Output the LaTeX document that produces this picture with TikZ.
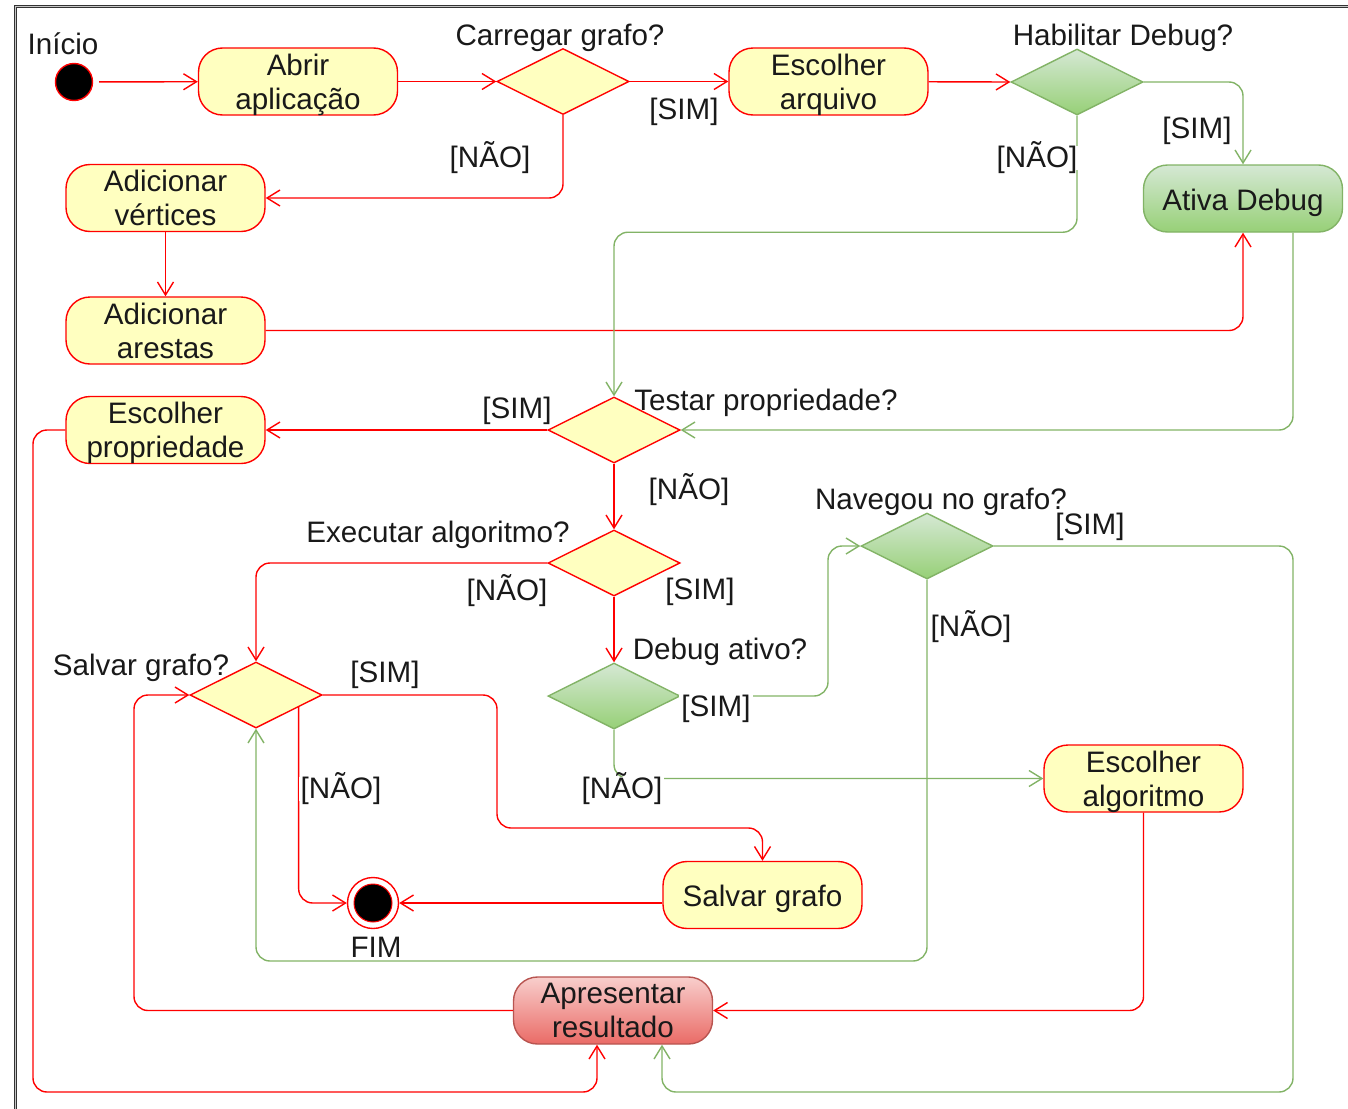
\documentclass[tikz,border=0pt]{standalone}
\usepackage{fontspec}
\setmainfont{Liberation Sans}
\usetikzlibrary{arrows.meta,shapes.geometric,calc}
\definecolor{actfill}{HTML}{FFFFC0}
\definecolor{actline}{HTML}{FF0000}
\definecolor{gline}{HTML}{82B366}
\definecolor{gtop}{HTML}{D5E8D4}
\definecolor{gbot}{HTML}{97D077}
\definecolor{rtop}{HTML}{F8CECC}
\definecolor{rbot}{HTML}{EA6B66}
\definecolor{rline}{HTML}{B85450}
\begin{document}
\begin{tikzpicture}[x=0.5pt,y=-0.5pt,
  every node/.style={font=\fontsize{14.8}{17}\selectfont, text=black!90},
  act/.style={draw=actline, fill=actfill, line width=0.7pt, rounded corners=12pt,
    minimum width=99.5pt, minimum height=33.5pt, align=center, inner sep=1pt,
    text depth=0pt},
  oneline/.style={text height=11.5pt, text depth=0pt},
  actgreen/.style={act, draw=gline, top color=gtop, bottom color=gbot},
  actred/.style={act, draw=rline, top color=rtop, bottom color=rbot},
  dec/.style={diamond, draw=actline, fill=actfill, line width=0.7pt,
    minimum width=66pt, minimum height=33pt, inner sep=0pt},
  gdec/.style={dec, draw=gline, top color=gtop, bottom color=gbot},
  qlbl/.style={inner sep=0pt, text height=0.95em, text depth=0.03em},
  lbl/.style={fill=white, inner sep=1pt, text height=0.95em, text depth=0.03em},
  tip/.style={-{Straight Barb[length=6.5pt,width=8pt]}},
  redflow/.style={draw=actline, line width=0.7pt, rounded corners=7pt, tip},
  greenflow/.style={draw=gline, line width=0.7pt, rounded corners=7pt, tip},
]
\useasboundingbox (0,0) rectangle (1348,1108);
% frame
\draw[line width=0.5pt, draw=black!80, double=gray!45, double distance=0.6pt]
  (1350,6.5) -- (15.5,6.5) -- (15.5,1110);

% initial and final states
\node[circle, draw=actline, fill=black, line width=0.7pt, minimum size=18.5pt, inner sep=0pt] (start) at (74,82) {};
\node[qlbl] (lstart) at (63,45) {Início};
\node[circle, draw=actline, fill=white, line width=0.7pt, minimum size=25.5pt, inner sep=0pt] (fim) at (373,903) {};
\node[circle, draw=actline, fill=black, line width=0.5pt, minimum size=19pt, inner sep=0pt] (fimdot) at (fim.center) {};
\node[qlbl] (lfim) at (376,948) {FIM};

% actions
\node[act] (abrir) at (298,81.5) {Abrir\\aplicação};
\node[act] (escarq) at (828.5,81.5) {Escolher\\arquivo};
\node[actgreen, oneline] (ativa) at (1243,198.5) {Ativa Debug};
\node[act] (advert) at (165.5,198) {Adicionar\\vértices};
\node[act] (arestas) at (165.5,330.5) {Adicionar\\arestas};
\node[act] (escprop) at (165.5,430) {Escolher\\propriedade};
\node[act, oneline] (salvargr) at (762.5,895) {Salvar grafo};
\node[act] (escalg) at (1143.5,778.5) {Escolher\\algoritmo};
\node[actred] (apres) at (613,1010.5) {Apresentar\\resultado};

% decisions
\node[dec] (carregar) at (563,81.5) {};
\node[gdec] (habilitar) at (1077,82) {};
\node[dec] (testar) at (614,430) {};
\node[dec] (exec) at (614,563) {};
\node[gdec] (debug) at (614,696) {};
\node[gdec] (naveg) at (927,546) {};
\node[dec] (salvarq) at (256,695) {};

% decision captions
\node[qlbl] (qcarregar) at (560,36) {Carregar grafo?};
\node[qlbl] (qhab) at (1123,36) {Habilitar Debug?};
\node[qlbl] (qtestar) at (766,401) {Testar propriedade?};
\node[qlbl] (qexec) at (438,533) {Executar algoritmo?};
\node[qlbl] (qdebug) at (720,650) {Debug ativo?};
\node[qlbl] (qnaveg) at (941,500) {Navegou no grafo?};
\node[qlbl] (qsalvar) at (141,666) {Salvar grafo?};

% bend points of the long connectors
\coordinate (gloop) at (1293,1092);
\coordinate (rloop) at (33,1092);
\coordinate (nbend) at (600,961);
\coordinate (sbend) at (497,828);
\coordinate (lbend) at (134,695);
\coordinate (dbend) at (828,546);

% red flows
\draw[redflow, shorten <=3pt] (start) -- (abrir);
\draw[redflow] (abrir) -- (carregar.west);
\draw[redflow] (carregar.east) -- (escarq);
\draw[redflow] (carregar.south) |- (advert.east);
\draw[redflow] (escarq) -- (habilitar.west);
\draw[redflow] (advert) -- (arestas);
\draw[redflow] (arestas.east) -| (ativa.south);
\draw[redflow] (testar.west) -- (escprop.east);
\draw[redflow] (testar.south) -- (exec.north);
\draw[redflow] (exec.west) -| (salvarq.north);
\draw[redflow] (exec.south) -- (debug.north);
\draw[redflow] (escalg.south) |- (apres.east);
\draw[redflow] (apres.west) -| (lbend) -- (salvarq.west);
\draw[redflow] (escprop.west) -| (rloop) -| ([xshift=-8pt]apres.south);
\draw[redflow] (salvarq.east) -| (sbend) -| (salvargr.north);
\draw[redflow] ($(salvarq.east)!0.36!(salvarq.south)$) |- (fim.west);
\draw[redflow] (fim.east -| salvargr.west) -- (fim.east);

% green flows
\draw[greenflow] (habilitar.east) -| (ativa.north);
\draw[greenflow] (habilitar.south) -- (habilitar.south |- advert.south) -| (testar.north);
\draw[greenflow] ([xshift=25pt]ativa.south) |- (testar.east);
\draw[greenflow] (debug.east) -| (dbend) -- (naveg.west);
\draw[greenflow] (debug.south) |- (escalg.west);
\draw[greenflow] (naveg.east) -| (gloop) -| ([xshift=24.5pt]apres.south);
\draw[greenflow] (naveg.south) |- (nbend) -| (salvarq.south);

% guards
\node[lbl] (g1) at (684,110) {[SIM]};
\node[lbl] (g2) at (490,158) {[NÃO]};
\node[lbl] (g3) at (1197,129) {[SIM]};
\node[lbl] (g4) at (1037,158) {[NÃO]};
\node[lbl] (g5) at (517,409) {[SIM]};
\node[lbl] (g6) at (689,490) {[NÃO]};
\node[lbl] (g7) at (1090,525) {[SIM]};
\node[lbl] (g8) at (507,591) {[NÃO]};
\node[lbl] (g9) at (700,590) {[SIM]};
\node[lbl] (g10) at (971,627) {[NÃO]};
\node[lbl] (g11) at (385,673) {[SIM]};
\node[lbl] (g12) at (716,707) {[SIM]};
\node[lbl] (g13) at (341,789) {[NÃO]};
\node[lbl] (g14) at (622,789) {[NÃO]};
\end{tikzpicture}
\end{document}
